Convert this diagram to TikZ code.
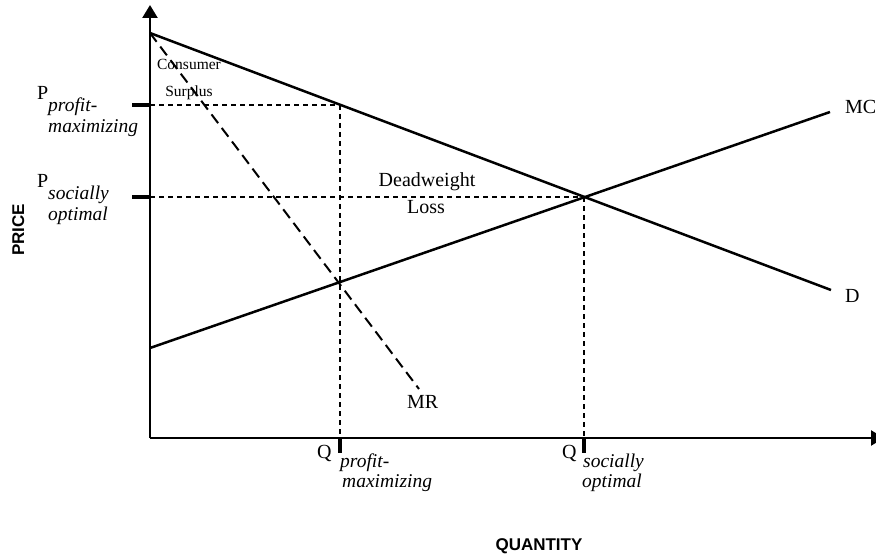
\documentclass[tikz,border=0pt]{standalone}
\usepackage{fontspec}
\setmainfont{Liberation Serif}
\setsansfont{Liberation Sans}
\usetikzlibrary{arrows.meta}
\begin{document}
\begin{tikzpicture}[x=1pt,y=-1pt,
  curve/.style={line width=2.5pt},
  axis/.style={line width=2.5pt},
  guide/.style={line width=2pt, dash pattern=on 5pt off 4pt},
  mrline/.style={line width=2pt, dash pattern=on 11pt off 6pt},
  tickmark/.style={line width=4.5pt},
  lbl/.style={font=\fontsize{20}{22}\selectfont, inner sep=0pt, anchor=base west},
  lblc/.style={font=\fontsize{20}{22}\selectfont, inner sep=0pt, anchor=base},
  subl/.style={font=\fontsize{19.5}{21}\selectfont\itshape, inner sep=0pt, anchor=base west},
  small/.style={font=\fontsize{15.5}{17}\selectfont, inner sep=0pt, anchor=base},
  axlbl/.style={font=\sffamily\bfseries\fontsize{17}{19}\selectfont, inner sep=0pt}
]
\useasboundingbox (0,0) rectangle (876,559);
% key points
\coordinate (O) at (150,438);
\coordinate (ytop) at (150,5);
\coordinate (xend) at (884,438);
\coordinate (Dstart) at (150,33);
\coordinate (Dend) at (831,290);
\coordinate (MCstart) at (150,348);
\coordinate (MCend) at (830,112);
\coordinate (MRend) at (419,389);
\coordinate (Pp) at (150,105);
\coordinate (Ps) at (150,197);
\coordinate (Ep) at (340,105);
\coordinate (Es) at (584,197);
\coordinate (Qp) at (340,438);
\coordinate (Qs) at (584,438);
% guides
\draw[guide] (Pp) -- (Ep);
\draw[guide] (Ps) -- (Es);
\draw[guide] (Ep) -- (Qp);
\draw[guide] (Es) -- (Qs);
% curves
\draw[curve] (Dstart) -- (Dend);
\draw[curve] (MCstart) -- (MCend);
\draw[mrline] (Dstart) -- (MRend);
% axes
\draw[axis,-{Triangle[length=13pt,width=15pt]}] (O) -- (ytop);
\draw[axis,-{Triangle[length=13pt,width=15pt]}] (O) -- (xend);
% ticks
\draw[tickmark] (132,105) -- (Pp);
\draw[tickmark] (132,197) -- (Ps);
\draw[tickmark] (Qp) -- (340,453);
\draw[tickmark] (Qs) -- (584,453);
% labels
\node[lbl] (pp) at (37,100) {P};
\node[subl] (ppa) at (48,112) {profit-};
\node[subl] (ppb) at (48,133) {maximizing};
\node[lbl] (ps) at (37,187) {P};
\node[subl] (psa) at (48,200) {socially};
\node[subl] (psb) at (48,221) {optimal};
\node[lbl] (qp) at (317,458) {Q};
\node[subl] (qpa) at (340,467) {profit-};
\node[subl] (qpb) at (342,487) {maximizing};
\node[lbl] (qs) at (562,458) {Q};
\node[subl] (qsa) at (583,467) {socially};
\node[subl] (qsb) at (582,487) {optimal};
\node[small] (cs1) at (189,70) {Consumer};
\node[small] (cs2) at (189,97) {Surplus};
\node[lblc] (dw1) at (427,186) {Deadweight};
\node[lblc] (dw2) at (426,213) {Loss};
\node[lbl] (mc) at (845,114) {MC};
\node[lbl] (d) at (845,302) {D};
\node[lbl] (mr) at (407,408) {MR};
\node[axlbl,anchor=base] (qty) at (539,550) {QUANTITY};
\node[axlbl,rotate=90,anchor=base] (price) at (24,230) {PRICE};
\end{tikzpicture}
\end{document}
